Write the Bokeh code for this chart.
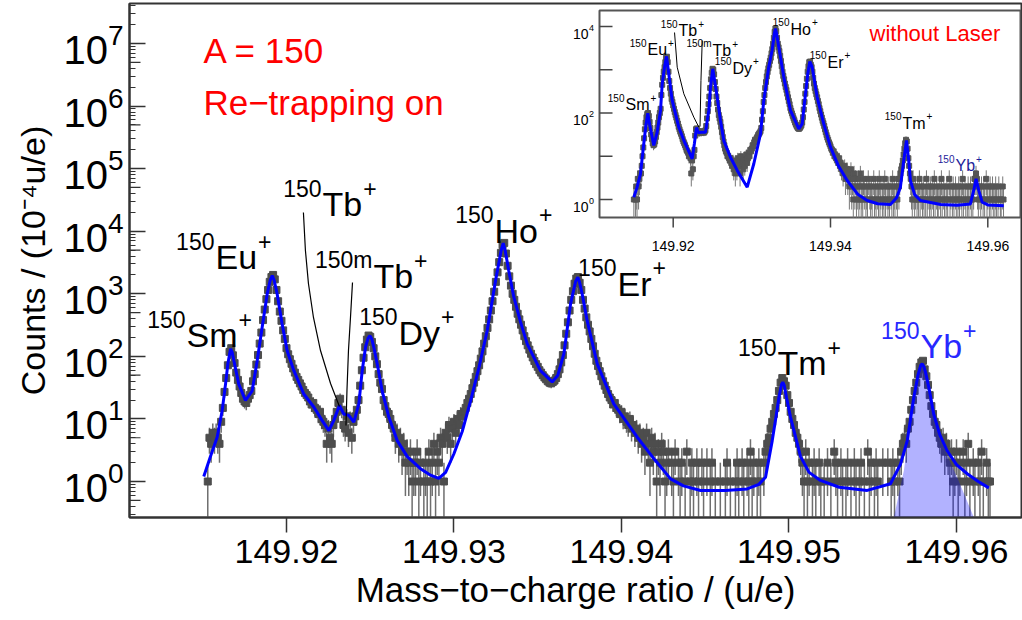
import numpy as np
from bokeh.plotting import figure
from bokeh.models import (Range1d, LinearScale, LogScale, FixedTicker, Label,
                          NumeralTickFormatter, LogTickFormatter)
from bokeh.embed import file_html
from bokeh.resources import INLINE

FONT = "Liberation Sans"

# ---------------- data ----------------
BIN = 0.0001
main_first_bin = 149.9153
main_counts = [
    1, 5, 4, 6, 5, 6, 5, 4, 9, 15,
    27, 45, 72, 118, 135, 104, 78, 55, 42, 33,
    26, 21, 19, 18, 21, 24, 28, 40, 52, 74,
    105, 160, 240, 380, 560, 820, 1150, 1550, 1850, 2000,
    1700, 1150, 760, 520, 370, 260, 190, 135, 108, 90,
    76, 64, 55, 47, 42, 37, 33, 29, 26, 24,
    22, 19, 17, 18, 15, 14, 12, 13, 10, 9,
    8, 4, 7, 5, 4, 8, 10, 13, 18, 21,
    14, 8, 7, 11, 6, 10, 5, 9, 11, 14,
    20, 34, 60, 95, 140, 185, 215, 205, 170, 135,
    100, 75, 52, 38, 30, 20, 16, 13, 12, 10,
    8, 7, 5, 6, 4, 5, 3, 4, 2, 3,
    2, 3, 1, 2, 2, 3, 1, 2, 0, 1,
    2, 1, 3, 1, 2, 4, 1, 3, 2, 5,
    4, 1, 6, 5, 8, 4, 7, 9, 6, 10,
    8, 12, 11, 13, 15, 18, 21, 25, 31, 38,
    47, 58, 72, 92, 120, 160, 210, 285, 390, 540,
    760, 1080, 1550, 2200, 3200, 4500, 6000, 6500, 4400, 2800,
    1900, 1350, 1000, 800, 620, 480, 390, 320, 260, 210,
    175, 150, 128, 110, 96, 84, 75, 68, 60, 55,
    50, 46, 43, 40, 38, 37, 39, 41, 45, 52,
    62, 80, 105, 150, 230, 350, 540, 800, 1100, 1450,
    1750, 1850, 1500, 1150, 800, 580, 420, 320, 250, 190,
    145, 110, 85, 70, 58, 48, 40, 34, 29, 25,
    22, 20, 17, 18, 15, 14, 12, 13, 10, 11,
    9, 8, 10, 7, 8, 6, 7, 5, 6, 4,
    5, 3, 6, 4, 2, 5, 3, 4, 1, 3,
    2, 4, 3, 1, 2, 3, 0, 2, 1, 3,
    0, 2, 1, 2, 0, 1, 3, 0, 1, 2,
    1, 0, 2, 1, 0, 2, 1, 0, 2, 0,
    1, 2, 0, 1, 0, 0, 1, 0, 0, 1,
    2, 0, 1, 0, 0, 1, 2, 1, 0, 2,
    1, 0, 2, 1, 3, 1, 2, 0, 1, 2,
    1, 0, 2, 3, 4, 5, 7, 9, 12, 15,
    20, 28, 38, 45, 40, 34, 24, 18, 13, 10,
    8, 6, 5, 4, 3, 2, 1, 3, 1, 2,
    0, 1, 2, 1, 0, 2, 1, 0, 1, 0,
    2, 0, 1, 0, 3, 2, 1, 0, 2, 1,
    0, 1, 2, 0, 1, 0, 2, 1, 0, 1,
    2, 0, 1, 0, 3, 1, 2, 0, 1, 2,
    1, 0, 0, 2, 0, 0, 2, 0, 1, 2,
    1, 0, 2, 1, 3, 4, 5, 4, 7, 9,
    14, 20, 28, 38, 52, 68, 80, 85, 62, 48,
    35, 24, 16, 12, 9, 8, 6, 5, 4, 5,
    3, 4, 3, 2, 3, 1, 2, 3, 1, 2,
    0, 3, 1, 2, 4, 1, 0, 2, 1, 0,
    2, 1, 3, 1, 0, 2, 1, 1,
]

inset_first_bin = 149.9150
inset_counts = [
    1, 0, 1, 2, 1, 3, 2, 3, 4, 4,
    6, 10, 16, 26, 42, 60, 80, 95, 100, 85,
    62, 45, 32, 25, 20, 18, 19, 22, 28, 36,
    46, 60, 80, 100, 125, 260, 450, 650, 900, 1150,
    1500, 1900, 2000, 1500, 900, 550, 380, 280, 210, 180,
    150, 125, 105, 90, 78, 66, 57, 48, 42, 37,
    33, 29, 25, 22, 20, 18, 16, 14, 13, 12,
    10, 11, 9, 4, 8, 5, 10, 14, 30, 42,
    44, 38, 36, 34, 37, 36, 35, 38, 36, 35,
    37, 40, 50, 75, 110, 160, 240, 380, 600, 850,
    1050, 1000, 780, 520, 360, 240, 170, 120, 90, 75,
    62, 48, 36, 28, 22, 18, 15, 13, 12, 10,
    10, 9, 8, 9, 7, 6, 8, 5, 6, 4,
    7, 5, 9, 6, 8, 4, 10, 6, 7, 5,
    9, 6, 8, 11, 7, 9, 12, 10, 14, 13,
    15, 18, 17, 21, 24, 22, 26, 28, 31, 33,
    35, 38, 45, 70, 110, 180, 260, 380, 520, 700,
    880, 1080, 1300, 1600, 1900, 2400, 3000, 4000, 5500, 7500,
    9000, 7800, 5500, 4000, 3300, 2700, 2100, 1600, 1200, 900,
    720, 600, 480, 400, 340, 280, 230, 190, 160, 130,
    112, 98, 86, 76, 68, 60, 54, 50, 46, 44,
    43, 45, 48, 52, 60, 80, 120, 180, 280, 420,
    620, 900, 1200, 1500, 1550, 1300, 1150, 900, 650, 480,
    380, 320, 270, 230, 190, 160, 130, 110, 92, 78,
    66, 58, 50, 42, 36, 31, 27, 24, 21, 19,
    17, 15, 14, 12, 13, 10, 11, 9, 10, 8,
    7, 9, 6, 7, 5, 6, 4, 5, 6, 3,
    4, 5, 3, 4, 2, 3, 5, 2, 3, 1,
    4, 2, 3, 1, 2, 3, 1, 2, 4, 1,
    2, 1, 3, 2, 0, 1, 2, 1, 3, 0,
    2, 1, 2, 1, 0, 3, 1, 2, 1, 0,
    2, 1, 3, 1, 2, 0, 1, 2, 1, 3,
    1, 0, 2, 1, 2, 1, 0, 2, 1, 3,
    1, 2, 1, 0, 2, 1, 3, 2, 3, 4,
    5, 6, 8, 11, 15, 20, 24, 22, 15, 9,
    6, 4, 3, 2, 1, 3, 2, 1, 2, 0,
    1, 2, 1, 3, 1, 0, 2, 1, 2, 1,
    0, 1, 3, 1, 2, 0, 1, 2, 1, 0,
    2, 1, 3, 1, 0, 2, 1, 1, 0, 2,
    1, 3, 1, 0, 2, 1, 0, 1, 2, 1,
    0, 3, 1, 2, 0, 1, 2, 1, 0, 2,
    1, 0, 1, 2, 1, 0, 2, 1, 3, 1,
    0, 2, 1, 0, 1, 2, 1, 0, 2, 1,
    0, 1, 2, 3, 3, 4, 3, 2, 1, 2,
    0, 1, 2, 0, 1, 2, 1, 0, 3, 1,
    2, 0, 1, 2, 1, 0, 2, 1, 0, 1,
    2, 1, 0, 1, 2, 0, 1, 1, 0, 2,
    1,
]

main_fit_mass = [
    149.91506, 149.91546, 149.91586, 149.91616, 149.91636, 149.91650, 149.91666, 149.91675,
    149.91686, 149.91715, 149.91755, 149.91795, 149.91825, 149.91855, 149.91885, 149.91903,
    149.91915, 149.91926, 149.91944, 149.91974, 149.92004, 149.92044, 149.92103, 149.92163,
    149.92213, 149.92253, 149.92282, 149.92316, 149.92342, 149.92372, 149.92402, 149.92432,
    149.92452, 149.92472, 149.92487, 149.92498, 149.92509, 149.92521, 149.92545, 149.92571,
    149.92611, 149.92661, 149.92721, 149.92800, 149.92860, 149.92909, 149.92950, 149.92999,
    149.93049, 149.93099, 149.93149, 149.93198, 149.93248, 149.93282, 149.93294, 149.93305,
    149.93327, 149.93357, 149.93397, 149.93437, 149.93516, 149.93586, 149.93620, 149.93656,
    149.93696, 149.93726, 149.93739, 149.93750, 149.93765, 149.93795, 149.93855, 149.93954,
    149.94094, 149.94200, 149.94293, 149.94370, 149.94472, 149.94620, 149.94750, 149.94820,
    149.94860, 149.94900, 149.94919, 149.94940, 149.94955, 149.94963, 149.94972, 149.94985,
    149.95009, 149.95069, 149.95120, 149.95188, 149.95300, 149.95467, 149.95606, 149.95666,
    149.95706, 149.95745, 149.95770, 149.95786, 149.95795, 149.95805, 149.95815, 149.95835,
    149.95864, 149.95900, 149.95944, 149.96000, 149.96064, 149.96130, 149.96193,
]
main_fit_counts = [
    1.2, 2.5, 5.1, 13.6, 36, 76, 132, 118,
    85, 36, 19.7, 28, 85, 295, 1000, 1660,
    1950, 1660, 1000, 330, 123, 59, 25, 15.5,
    9.4, 6.5, 9.4, 16.4, 12, 11.4, 8.9, 17.4,
    59, 141, 195, 214, 190, 141, 68, 28,
    10.7, 4.5, 2.5, 1.6, 1.26, 1.12, 1.4, 2.75,
    6.3, 19.5, 66, 257, 1620, 5000, 6460, 5000,
    2340, 890, 355, 158, 59, 39, 50, 110,
    690, 1580, 1840, 1510, 1000, 372, 76, 17.4,
    5.1, 2.2, 1.1, 0.85, 0.72, 0.72, 0.76, 0.9,
    1.17, 4.5, 9.4, 22, 35.5, 38.6, 34, 22,
    10.7, 2.5, 1.4, 1.04, 0.81, 0.72, 0.92, 1.9,
    4.5, 22, 50, 72, 76, 69, 56, 32,
    12, 5.6, 3.1, 1.86, 1.33, 1.0, 0.79,
]

inset_fit_mass = [
    149.91499, 149.91540, 149.91584, 149.91626, 149.91653, 149.91677, 149.91700, 149.91753,
    149.91795, 149.91839, 149.91860, 149.91890, 149.91915, 149.91944, 149.91987, 149.92071,
    149.92150, 149.92241, 149.92270, 149.92296, 149.92320, 149.92347, 149.92410, 149.92453,
    149.92474, 149.92503, 149.92559, 149.92601, 149.92643, 149.92728, 149.92814, 149.92941,
    149.93025, 149.93110, 149.93152, 149.93215, 149.93258, 149.93287, 149.93300, 149.93313,
    149.93343, 149.93406, 149.93491, 149.93597, 149.93640, 149.93682, 149.93711, 149.93737,
    149.93767, 149.93830, 149.93914, 149.94000, 149.94100, 149.94212, 149.94350, 149.94466,
    149.94600, 149.94762, 149.94840, 149.94889, 149.94931, 149.94966, 149.94995, 149.95016,
    149.95070, 149.95144, 149.95400, 149.95610, 149.95779, 149.95821, 149.95851, 149.95885,
    149.95928, 149.96000, 149.96203,
]
inset_fit_counts = [
    1.13, 1.9, 3.9, 19.5, 52, 99, 55, 17.8,
    35, 115, 468, 1150, 2040, 795, 195, 47,
    20, 8.7, 20, 46, 35, 36, 36, 115,
    398, 1050, 234, 67, 23, 9.5, 4.7, 1.93,
    6.7, 33, 195, 1150, 2820, 7080, 8900, 7080,
    3310, 676, 115, 43, 56, 277, 800, 1550,
    1150, 234, 56, 16.2, 6.0, 2.75, 1.3, 0.95,
    0.8, 0.77, 1.1, 1.93, 7.9, 23.2, 7.9, 2.75,
    1.3, 0.95, 0.77, 0.74, 0.79, 1.62, 3.0, 1.62,
    0.87, 0.75, 0.72,
]

# 150Yb component (shaded) of the main fit
yb_comp_mass = [149.95626, 149.95686, 149.95745, 149.95770, 149.95786, 149.95795, 149.95805,
                149.95815, 149.95835, 149.95864, 149.95904, 149.96004, 149.96104]
yb_comp_counts = [0.2, 1.5, 22, 50, 72, 76, 69, 56, 32, 12, 4.5, 1.17, 0.2]

ion_sup = ["150", "150", "150", "150m", "150", "150", "150", "150", "150"]
ion_elem = ["Sm", "Eu", "Tb", "Tb", "Dy", "Ho", "Er", "Tm", "Yb"]
main_ion_mass = [149.91403, 149.91576, 149.92215, 149.92519, 149.92669, 149.93242,
                 149.93976, 149.94931, 149.95785]
main_ion_count = [215.5, 3802, 26730, 1889, 240.5, 10260, 1459, 76.9, 143.8]
inset_ion_mass = [149.913935, 149.916732, 149.920674, 149.924997, 149.92754, 149.934914,
                  149.939618, 149.949154, 149.955893]
inset_ion_count = [157.2, 2938, 8080, 2786, 1069, 8530, 1472, 57.2, 6.11]

# callout lines for the Tb states
tb_line_mass = [149.92101, 149.92113, 149.92131, 149.92161, 149.92203, 149.92263, 149.92316]
tb_line_count = [19900, 4920, 1460, 418, 124, 36.8, 15.8]
mtb_line_mass = [149.92394, 149.92382, 149.92370, 149.92361, 149.92355]
mtb_line_count = [1515, 418, 124, 28.5, 7.85]
itb_line_mass = [149.92017, 149.92051, 149.92135, 149.92262, 149.92326]
itb_line_count = [7265, 1146, 278, 80, 47]
imtb_line_mass = [149.92369, 149.92353, 149.92341]
imtb_line_count = [4745, 564, 48.7]

x_ticks = [149.92, 149.93, 149.94, 149.95, 149.96]
inset_x_ticks = [149.92, 149.94, 149.96]
y_decades = [0, 1, 2, 3, 4, 5, 6, 7]
inset_y_decades = [0, 1, 2, 3, 4]
inset_y_labelled = [0, 2, 4]

x_title = "Mass\u2212to\u2212charge ratio / (u/e)"
y_title = "Counts / (10\u207b\u2074u/e)"

# ---------------- ranges ----------------
X0, X1 = 149.910627, 149.963881
Y0, Y1 = 10 ** -0.5753, 10 ** 7.639
# inset axes mapped onto the same frame
IXR0, IXR1 = 149.850871, 149.964285
IYR0, IYR1 = 10 ** -7.3526, 10 ** 4.5318
IX0, IX1 = 149.910629, 149.964158
IY0, IY1 = 10 ** -0.4162, 10 ** 4.370

p = figure(width=1022, height=620, x_range=Range1d(X0, X1), y_range=Range1d(Y0, Y1),
           y_axis_type="log", output_backend="svg", toolbar_location=None,
           min_border_left=129, min_border_right=1, min_border_top=3, min_border_bottom=103,
           background_fill_color="white", border_fill_color="white")
p.extra_x_ranges = {"ix": Range1d(IXR0, IXR1)}
p.extra_y_ranges = {"iy": Range1d(IYR0, IYR1)}
p.extra_x_scales = {"ix": LinearScale()}
p.extra_y_scales = {"iy": LogScale()}

p.grid.visible = False
p.outline_line_color = "#333333"
p.outline_line_width = 2

xa = p.xaxis[0]
xa.ticker = FixedTicker(ticks=x_ticks)
xa.formatter = NumeralTickFormatter(format="0.00")
xa.major_tick_in = 0
xa.major_tick_out = 15
xa.minor_tick_line_color = None
xa.axis_line_color = "#333333"
xa.axis_line_width = 2
xa.major_tick_line_color = "#333333"
xa.major_tick_line_width = 1.5
xa.major_label_text_font = FONT
xa.major_label_text_font_size = "34px"
xa.major_label_text_color = "#000000"
xa.major_label_standoff = 7
xa.axis_label = x_title
xa.axis_label_text_font = FONT
xa.axis_label_text_font_size = "35px"
xa.axis_label_text_font_style = "normal"
xa.axis_label_text_color = "#000000"
xa.axis_label_standoff = 4

minor = [m * 10.0 ** n for n in range(-1, 8) for m in range(2, 10) if Y0 <= m * 10.0 ** n <= Y1]
ya = p.yaxis[0]
ya.ticker = FixedTicker(ticks=[10.0 ** n for n in y_decades], minor_ticks=minor)
ya.formatter = LogTickFormatter()
ya.major_tick_in = 16
ya.major_tick_out = 0
ya.minor_tick_in = 6
ya.minor_tick_out = 0
ya.axis_line_color = "#333333"
ya.axis_line_width = 2
ya.major_tick_line_color = "#333333"
ya.major_tick_line_width = 1.5
ya.minor_tick_line_color = "#333333"
ya.minor_tick_line_width = 1.2
ya.major_label_text_font = FONT
ya.major_label_text_font_size = "40px"
ya.major_label_text_color = "#000000"
ya.major_label_standoff = 6
ya.axis_label = y_title
ya.axis_label_text_font = FONT
ya.axis_label_text_font_size = "34px"
ya.axis_label_text_font_style = "normal"
ya.axis_label_text_color = "#000000"
ya.axis_label_standoff = 8

# medium ticks at 5 x 10^n
mid = [5 * 10.0 ** n for n in range(-1, 8) if Y0 <= 5 * 10.0 ** n <= Y1]
p.ray(x=[X0] * len(mid), y=mid, length=11, length_units="screen", angle=0,
      line_color="#333333", line_width=1.2)

# ---------------- main data ----------------
def prep(counts, first):
    c = np.array(counts, dtype=float)
    m = first + BIN * np.arange(len(c))
    keep = c > 0
    c, m = c[keep], m[keep]
    e = np.sqrt(c)
    return m, c, c - e, c + e

mm, mc, mlo, mhi = prep(main_counts, main_first_bin)
mlo = np.where(mlo <= Y0, Y0, mlo)
p.segment(x0=mm, y0=mlo, x1=mm, y1=mhi, line_color="#6e6e6e", line_width=1.5)
p.scatter(mm, mc, marker="square", size=7, fill_color="#4d4d4d", line_color="#4d4d4d")

ybc = np.maximum(np.array(yb_comp_counts), Y0)
p.patch(yb_comp_mass, ybc, fill_color="#0000ff", fill_alpha=0.3, line_color=None)
p.line(main_fit_mass, main_fit_counts, line_color="#0000ff", line_width=3)

p.line(tb_line_mass, tb_line_count, line_color="#000000", line_width=1.2)
p.line(mtb_line_mass, mtb_line_count, line_color="#000000", line_width=1.2)

# ---------------- inset ----------------
p.quad(left=[IX0], right=[IX1], bottom=[IY0], top=[IY1], fill_color="white",
       line_color="#555555", line_width=2, x_range_name="ix", y_range_name="iy")
im, ic, ilo, ihi = prep(inset_counts, inset_first_bin)
ilo = np.where(ilo <= IY0, IY0, ilo)
p.segment(x0=im, y0=ilo, x1=im, y1=ihi, line_color="#777777", line_width=1,
          x_range_name="ix", y_range_name="iy")
p.scatter(im, ic, marker="square", size=5, fill_color="#555555", line_color="#555555",
          x_range_name="ix", y_range_name="iy")
p.line(inset_fit_mass, inset_fit_counts, line_color="#0000ff", line_width=3,
       x_range_name="ix", y_range_name="iy")
p.line(itb_line_mass, itb_line_count, line_color="#000000", line_width=1,
       x_range_name="ix", y_range_name="iy")
p.line(imtb_line_mass, imtb_line_count, line_color="#000000", line_width=1,
       x_range_name="ix", y_range_name="iy")
p.ray(x=[IX0] * len(inset_y_decades), y=[10.0 ** n for n in inset_y_decades], length=13,
      length_units="screen", angle=0, line_color="#444444", line_width=1.5,
      x_range_name="ix", y_range_name="iy")
p.ray(x=inset_x_ticks, y=[IY0] * len(inset_x_ticks), length=10, length_units="screen",
      angle=-np.pi / 2, line_color="#444444", line_width=1.5,
      x_range_name="ix", y_range_name="iy")

# ---------------- texts ----------------
W = {'0': .556, '1': .556, '2': .556, '3': .556, '4': .556, '5': .556, '6': .556, '7': .556,
     '8': .556, '9': .556, '.': .278, ' ': .278, '/': .278, '(': .333, ')': .333, '+': .584,
     '\u2212': .584, 'C': .722, 'o': .556, 'u': .556, 'n': .556, 't': .278, 's': .5, 'e': .556,
     'S': .667, 'm': .833, 'E': .667, 'T': .611, 'b': .556, 'D': .722, 'y': .5, 'H': .722,
     'r': .333, 'Y': .667}


def tw(s, size):
    return sum(W.get(ch, 0.556) for ch in s) * size


def lab(x, y, text, size, color="#000000", align="left", dx=0, dy=0, angle=0,
        xr="default", yr="default"):
    p.add_layout(Label(x=x, y=y, text=text, x_offset=dx, y_offset=dy, text_font=FONT,
                       text_font_size=f"{size}px", text_color=color, text_align=align,
                       text_baseline="alphabetic", angle=angle, angle_units="deg",
                       x_range_name=xr, y_range_name=yr))


def ion(x, y, sup, elem, big, small, rise, color, xr="default", yr="default"):
    lab(x, y, elem, big, color, "left", xr=xr, yr=yr)
    lab(x, y, sup, small, color, "right", dx=-1, dy=rise, xr=xr, yr=yr)
    lab(x, y, "+", small, color, "left", dx=tw(elem, big) + 1, dy=rise, xr=xr, yr=yr)


for sup, el, xm, yc in zip(ion_sup, ion_elem, main_ion_mass, main_ion_count):
    ion(xm, yc, sup, el, 34, 23, 16, "#2828ff" if el == "Yb" else "#000000")
for sup, el, xm, yc in zip(ion_sup, ion_elem, inset_ion_mass, inset_ion_count):
    ion(xm, yc, sup, el, 16, 10, 7, "#1e1e9a" if el == "Yb" else "#000000", "ix", "iy")

lab(149.91504, 7.73e6, "A = 150", 35, "#ff0000")
lab(149.91504, 1.14e6, "Re\u2212trapping on", 35, "#ff0000")
lab(149.944959, 6890, "without Laser", 22, "#ff0000", xr="ix", yr="iy")

# inset tick labels
for n in inset_y_labelled:
    lab(149.909231, 10.0 ** n, "10", 14, align="right", dy=-7, xr="ix", yr="iy")
    lab(149.909231, 10.0 ** n, str(n), 9, align="left", dx=0.5, dy=-1, xr="ix", yr="iy")
for t in inset_x_ticks:
    lab(t, IY0, f"{t:.2f}", 14, align="center", dy=-28, xr="ix", yr="iy")

open("out.html", "w").write(file_html(p, INLINE))
